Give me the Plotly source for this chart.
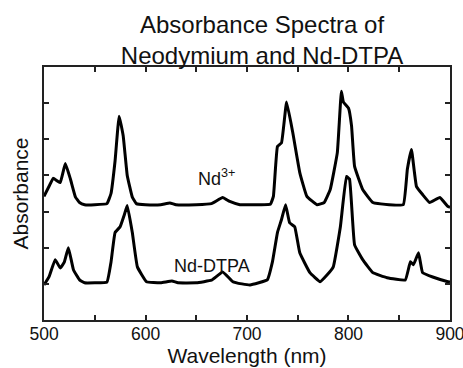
import plotly.graph_objects as go

# Nd3+ spectrum (offset upward)
nd_wl = [500, 505, 509, 513, 516, 521, 526, 531, 535, 540, 550, 562, 566, 570, 574, 578, 582, 587, 591, 600, 615, 624, 630,
         650, 665, 676, 683, 693, 710, 723, 726, 730, 734, 739, 745, 752, 759, 769, 776, 782, 789, 793, 795, 800, 803, 806,
         814, 824, 840, 854, 858, 862, 867, 873, 880, 890, 898, 900]
nd_abs = [3.42, 3.7, 3.92, 3.85, 3.8, 4.33, 3.9, 3.4, 3.25, 3.19, 3.19, 3.22, 3.5, 4.4, 5.64, 5.1, 4.0, 3.4, 3.22, 3.19, 3.19, 3.24, 3.19,
          3.19, 3.22, 3.39, 3.28, 3.19, 3.19, 3.2, 3.42, 4.8, 4.9, 6.03, 5.2, 4.08, 3.42, 3.19, 3.25, 3.61, 4.63, 6.33, 6.03, 5.86, 5.37, 4.25,
          3.61, 3.25, 3.19, 3.19, 4.17, 4.72, 3.69, 3.47, 3.25, 3.39, 3.14, 3.12]

# Nd-DTPA spectrum
dtpa_wl = [500, 505, 511, 516, 520, 524, 529, 535, 540, 550, 562, 566, 570, 575, 579, 582, 587, 592, 601, 615, 626, 632,
           650, 665, 676, 686, 695, 703, 720, 725, 730, 734, 738, 742, 747, 752, 762, 772, 779, 785, 792, 798, 801, 806,
           814, 824, 838, 856, 861, 864, 869, 873, 883, 898, 900]
dtpa_abs = [0.97, 1.2, 1.67, 1.44, 1.6, 2.0, 1.39, 1.11, 1.03, 1.03, 1.05, 1.6, 2.42, 2.58, 2.9, 3.17, 2.42, 1.47, 1.06, 1.03, 1.08, 1.03,
            1.03, 1.1, 1.33, 1.06, 1.0, 0.97, 1.11, 1.6, 2.42, 2.78, 3.19, 2.69, 2.58, 1.86, 1.31, 1.06, 1.25, 1.47, 2.58, 3.97, 3.9, 2.08,
            1.67, 1.31, 1.17, 1.11, 1.61, 1.53, 1.86, 1.31, 1.19, 1.06, 1.05]

x_tickvals = [500, 550, 600, 650, 700, 750, 800, 850, 900]
x_ticktext = ["500", "", "600", "", "700", "", "800", "", "900"]
y_tickvals = [1, 2, 3, 4, 5, 6]

fig = go.Figure()
fig.add_trace(go.Scatter(x=nd_wl, y=nd_abs, mode="lines", line=dict(color="black", width=3, shape="spline", smoothing=0.3)))
fig.add_trace(go.Scatter(x=dtpa_wl, y=dtpa_abs, mode="lines", line=dict(color="black", width=3, shape="spline", smoothing=0.3)))

fig.add_annotation(x=670, y=3.94, text="Nd<sup>3+</sup>", showarrow=False, font=dict(size=18, color="#111"))
fig.add_annotation(x=666, y=1.5, text="Nd-DTPA", showarrow=False, font=dict(size=18, color="#111"))

axis_common = dict(showline=True, linecolor="#222", linewidth=1.5, mirror="ticks", ticks="inside", ticklen=5,
                   tickcolor="#222", tickwidth=1.5, showgrid=False, zeroline=False, automargin=False)
fig.update_layout(
    width=463, height=368,
    margin=dict(l=44, r=13, t=67, b=48, autoexpand=False),
    paper_bgcolor="white", plot_bgcolor="white",
    showlegend=False,
    font=dict(family="Liberation Sans, Arial, sans-serif", color="#111"),
    title=dict(text="Absorbance Spectra of<br>Neodymium and Nd-DTPA", x=262/463, xanchor="center",
               y=1 - 33/368, yanchor="middle", font=dict(size=24), automargin=False),
    xaxis=dict(range=[499.99, 900.01], tickvals=x_tickvals, ticktext=x_ticktext, tickfont=dict(size=17.5),
               ticklabeloverflow="allow", ticklabelstandoff=-3,
               title=dict(text="Wavelength (nm)", font=dict(size=21), standoff=4), **axis_common),
    yaxis=dict(range=[0, 7], tickvals=y_tickvals, showticklabels=False,
               title=dict(text="Absorbance", font=dict(size=21), standoff=8), **axis_common),
)
fig.write_html("out.html", config={"displayModeBar": False},
               post_script="document.body.style.margin='0';document.body.style.overflow='hidden';")
